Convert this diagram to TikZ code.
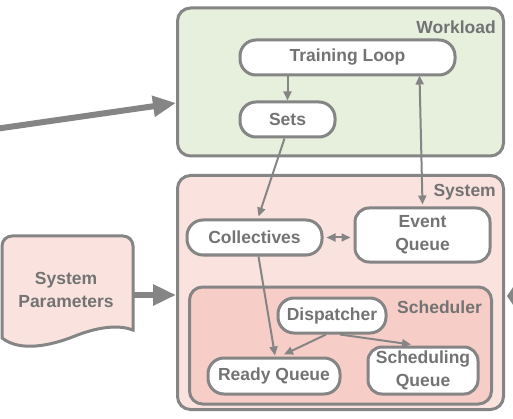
\documentclass[tikz,border=0pt]{standalone}
\usepackage{fontspec}
\setmainfont{Liberation Sans}
\usetikzlibrary{arrows.meta,calc}
\definecolor{linegray}{HTML}{858585}
\definecolor{txtgray}{HTML}{737373}
\definecolor{wlgreen}{HTML}{E6F0DD}
\definecolor{syspink}{HTML}{FAE3DE}
\definecolor{schedpink}{HTML}{F6CEC7}
\tikzset{
  area/.style={draw=linegray, line width=3pt, rounded corners=13pt, inner sep=0pt},
  box/.style={draw=linegray, line width=3pt, fill=white, rounded corners=14pt,
    inner sep=0pt, align=center, text=txtgray, font=\fontsize{17.5}{23}\selectfont\bfseries},
  tag/.style={text=txtgray, font=\fontsize{17.5}{23}\selectfont\bfseries, anchor=east, inner sep=0pt},
  arr/.style={draw=linegray, line width=2pt, -{Triangle[length=9pt,width=8pt]}},
  arrb/.style={draw=linegray, line width=2pt, {Triangle[length=9pt,width=8pt]}-{Triangle[length=9pt,width=8pt]}},
  bigarr/.style={draw=linegray, line width=6pt, -{Triangle[length=23pt,width=20pt]}},
  bluntarr/.style={draw=linegray, line width=6pt, -{Triangle[length=9pt,width=26pt]}},
}
\begin{document}
\begin{tikzpicture}[x=1pt,y=-1pt]
\path[use as bounding box, clip] (0,0) rectangle (513,419);
\fill[white] (0,0) rectangle (513,419);

% containers
\node[area, fill=wlgreen, minimum width=326pt, minimum height=148pt] (wl) at (340.5,82) {};
\node[tag] (wltag) at (496,27) {Workload};
\node[area, fill=syspink, minimum width=326pt, minimum height=234pt] (sys) at (340.5,292.5) {};
\node[tag] (systag) at (496,192) {System};
\node[area, fill=schedpink, minimum width=302pt, minimum height=117pt] (sch) at (340.5,345.5) {};
\node[tag] (schtag) at (482,307) {Scheduler};

% inner blocks
\node[box, minimum width=215pt, minimum height=35pt, rounded corners=16pt] (tl) at (347.5,57.5) {Training Loop};
\node[box, minimum width=95pt, minimum height=35pt, rounded corners=16pt] (sets) at (287.5,119.5) {Sets};
\node[box, minimum width=135pt, minimum height=35pt, rounded corners=16pt] (coll) at (254.5,237.5) {Collectives};
\node[box, minimum width=135pt, minimum height=54pt] (eq) at (422.5,235) {Event\\Queue};
\node[box, minimum width=108pt, minimum height=35pt, rounded corners=16pt] (disp) at (332,315.5) {Dispatcher};
\node[box, minimum width=132pt, minimum height=36pt, rounded corners=16pt] (rq) at (274,376) {Ready Queue};
\node[box, minimum width=110pt, minimum height=47pt] (sq) at (423,370.5) {Scheduling\\Queue};

% system parameters document
\path[draw=linegray, line width=3pt, fill=syspink]
  (2,246) arc[start angle=180, end angle=270, radius=10] -- (123,236)
  arc[start angle=270, end angle=360, radius=10] -- (133,330)
  .. controls (120,325) and (100,326) .. (75,336)
  .. controls (50,346) and (20,352) .. (2,338) -- cycle;
\node[text=txtgray, font=\fontsize{17.5}{23}\selectfont\bfseries, align=center] (sp) at (66,290) {System\\Parameters};
\coordinate (spout) at (134,295);

% connectors
\draw[arr] (tl.south -| sets.north) -- (sets.north);
\draw[arr] ([xshift=-3pt]sets.south) -- ([xshift=4pt,yshift=2pt]coll.north);
\draw[arrb] ([xshift=72pt,yshift=1pt]tl.south) -- ([yshift=2pt]eq.north);
\draw[arrb] ([xshift=3pt]coll.east) -- ([xshift=-3pt]coll.east -| eq.west);
\draw[arr] ([xshift=4pt]coll.south) -- ([xshift=1pt,yshift=1pt]rq.north);
\draw[arr] ([xshift=-6pt]disp.south) -- ([xshift=10pt,yshift=2pt]rq.north);
\draw[arr] ([xshift=8pt]disp.south) -- ([xshift=-12pt,yshift=1pt]sq.north);

% big inputs
\coordinate (leftin) at (-5,129);
\coordinate (rightin) at (545,296);
\coordinate (righttip) at (507,296);
\draw[bigarr] (leftin) -- ([yshift=-21pt]wl.west);
\draw[bigarr] (spout) -- (sys.west |- spout);
\draw[bluntarr] (rightin) -- (righttip);
\end{tikzpicture}
\end{document}
